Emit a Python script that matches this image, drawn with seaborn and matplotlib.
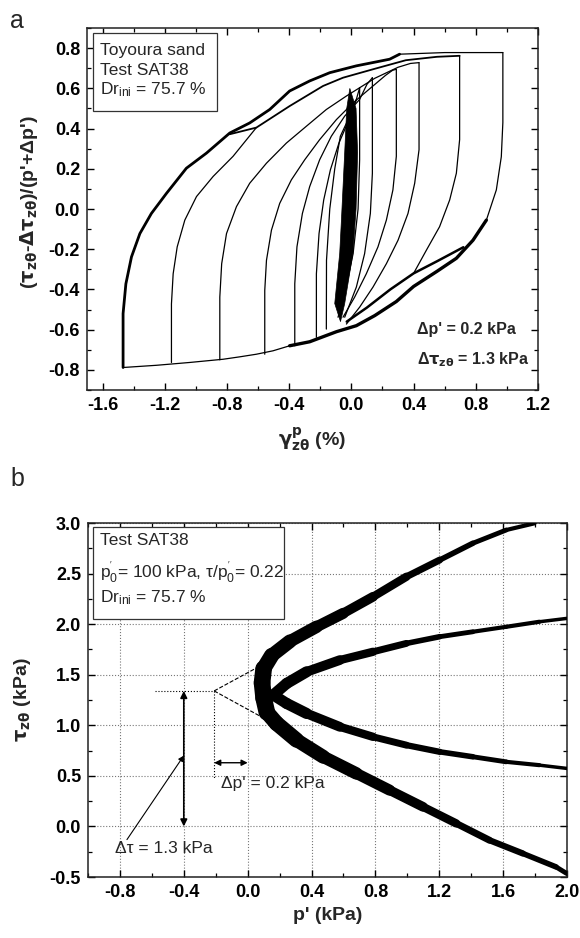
import numpy as np
import matplotlib
matplotlib.use('Agg')
import matplotlib.pyplot as plt
import seaborn as sns
from matplotlib.ticker import MultipleLocator
from matplotlib.collections import LineCollection
from matplotlib.patches import Rectangle

sns.set_style('ticks')
plt.rcParams['font.family'] = ['Liberation Sans', 'DejaVu Sans']
plt.rcParams['mathtext.fontset'] = 'custom'
plt.rcParams['mathtext.rm'] = 'Liberation Sans'
plt.rcParams['mathtext.it'] = 'Liberation Sans:italic'
plt.rcParams['mathtext.bf'] = 'DejaVu Sans:bold'
plt.rcParams['xtick.direction'] = 'in'
plt.rcParams['ytick.direction'] = 'in'

# ---------------- panel a: stress ratio vs plastic shear strain ----------------
# upper (noisy) envelope after the largest negative reversal
up_env_x = [-1.468, -1.468, -1.45, -1.414, -1.36, -1.286, -1.189, -1.061, -0.932, -0.782,
            -0.654, -0.525, -0.397, -0.268, -0.139, 0.032, 0.246, 0.31]
up_env_y = [-0.788, -0.52, -0.372, -0.238, -0.122, -0.022, 0.078, 0.203, 0.278, 0.378,
            0.428, 0.495, 0.587, 0.637, 0.678, 0.712, 0.745, 0.77]
top_x = [0.31, 0.6, 0.974]
top_y = [0.77, 0.778, 0.778]
# second upper line
ui_x = [-0.782, -0.611, -0.397, -0.182, -0.054, 0.139, 0.35, 0.55, 0.696]
ui_y = [0.372, 0.405, 0.512, 0.612, 0.653, 0.695, 0.74, 0.757, 0.762]
# lower (noisy) envelopes and bottom line
lo_env_x = [0.868, 0.782, 0.675, 0.55, 0.4, 0.289, 0.15, 0.032, -0.096, -0.182, -0.268, -0.397]
lo_env_y = [-0.055, -0.155, -0.245, -0.31, -0.385, -0.46, -0.53, -0.58, -0.61, -0.635, -0.66, -0.68]
lo_in_x = [0.72, 0.55, 0.4, 0.25, 0.1, -0.03]
lo_in_y = [-0.19, -0.26, -0.32, -0.4, -0.49, -0.56]
bot_x = [-0.397, -0.504, -0.611, -0.718, -0.825, -1.04, -1.253, -1.468]
bot_y = [-0.68, -0.705, -0.722, -0.735, -0.747, -0.763, -0.777, -0.788]

# unloading branches from positive reversals
r1_x = [0.974, 0.974, 0.964, 0.932, 0.868]
r1_y = [0.778, 0.43, 0.26, 0.095, -0.055]
r2_x = [0.696, 0.696, 0.675, 0.632, 0.567, 0.482, 0.4]
r2_y = [0.762, 0.345, 0.178, 0.045, -0.088, -0.205, -0.32]
r3_x = [0.435, 0.435, 0.407, 0.364, 0.3, 0.225, 0.139, 0.053, -0.032]
r3_y = [0.728, 0.295, 0.128, -0.022, -0.155, -0.272, -0.388, -0.488, -0.572]
r4_x = [0.289, 0.289, 0.267, 0.225, 0.171, 0.096, 0.021, -0.054]
r4_y = [0.695, 0.262, 0.095, -0.055, -0.188, -0.322, -0.438, -0.538]
r5_x = [0.135, 0.135, 0.122, 0.085, 0.032, -0.043]
r5_y = [0.653, 0.178, -0.022, -0.222, -0.388, -0.538]
r6_x = [0.053, 0.053, 0.043, 0.011, -0.043, -0.086]
r6_y = [0.603, 0.245, 0.0, -0.222, -0.422, -0.538]

# reloading branches from negative reversals
b_x = [-1.157, -1.157, -1.146, -1.12, -1.071, -0.996, -0.889, -0.761, -0.611]
b_y = [-0.763, -0.472, -0.322, -0.188, -0.055, 0.062, 0.162, 0.262, 0.405]
c_x = [-0.846, -0.846, -0.834, -0.803, -0.739, -0.654, -0.546, -0.418, -0.289, -0.161,
       -0.032, 0.15, 0.3, 0.38, 0.435]
c_y = [-0.75, -0.438, -0.272, -0.122, 0.012, 0.128, 0.228, 0.328, 0.412, 0.495,
       0.562, 0.65, 0.705, 0.724, 0.728]
d_x = [-0.557, -0.557, -0.546, -0.514, -0.461, -0.386, -0.3, -0.204, -0.096, 0.011,
       0.139, 0.22, 0.265, 0.289]
d_y = [-0.722, -0.405, -0.255, -0.105, 0.028, 0.145, 0.245, 0.345, 0.445, 0.528,
       0.612, 0.665, 0.69, 0.695]
e_x = [-0.364, -0.364, -0.35, -0.315, -0.268, -0.204, -0.129, -0.043, 0.053, 0.1, 0.135]
e_y = [-0.68, -0.372, -0.188, -0.022, 0.112, 0.245, 0.362, 0.462, 0.545, 0.62, 0.653]
f_x = [-0.225, -0.225, -0.208, -0.178, -0.135, -0.08, -0.015, 0.03, 0.053]
f_y = [-0.638, -0.322, -0.122, 0.045, 0.195, 0.328, 0.445, 0.54, 0.603]
g_x = [-0.161, -0.16, -0.139, -0.107, -0.071, -0.021, 0.032]
g_y = [-0.597, -0.255, 0.0, 0.2, 0.362, 0.445, 0.545]

# dense band of small cycles near zero strain
dense_x = [-0.01, 0.03, 0.04, 0.03, 0.01, -0.043, -0.07, -0.107, -0.075, -0.064, -0.043, -0.03]
dense_y = [0.6, 0.5, 0.28, 0.0, -0.22, -0.47, -0.56, -0.47, -0.22, -0.055, 0.28, 0.5]

# ---------------- panel b: stress path ----------------
outer_p = [1.796, 1.619, 1.41, 1.202, 0.994, 0.785, 0.598, 0.431, 0.264, 0.15, 0.1, 0.09,
           0.1, 0.12, 0.181, 0.306, 0.473, 0.681, 0.889, 1.098, 1.306, 1.514, 1.723, 1.931, 1.998]
outer_tau = [2.997, 2.931, 2.8, 2.634, 2.469, 2.271, 2.107, 1.974, 1.83, 1.69, 1.56, 1.42,
             1.27, 1.13, 1.019, 0.854, 0.689, 0.524, 0.359, 0.194, 0.03, -0.136, -0.267, -0.4, -0.465]
outer_w = [3, 3.5, 4, 5, 6, 7, 8, 9, 10, 11, 12, 12, 12, 11, 11, 10, 9, 8, 7, 6, 5, 4.5, 4, 3.5]

inner_p = [1.998, 1.827, 1.619, 1.41, 1.202, 0.994, 0.785, 0.577, 0.369, 0.244, 0.16,
           0.244, 0.369, 0.577, 0.785, 0.994, 1.202, 1.41, 1.619, 1.827, 1.998]
inner_tau = [2.057, 2.024, 1.974, 1.925, 1.876, 1.81, 1.727, 1.645, 1.529, 1.414, 1.3,
             1.216, 1.117, 0.985, 0.886, 0.804, 0.738, 0.689, 0.639, 0.606, 0.574]
inner_w = [2.5, 3, 3, 3.5, 4, 5, 6, 7, 8, 8, 8, 8, 7, 6, 5, 4.5, 4, 3.5, 3, 2.5]

# construction lines
apex = (-0.21, 1.34)
dash_up = (0.07, 1.58)
dash_lo = (0.09, 1.08)

fig = plt.figure(figsize=(5.8, 9.38), dpi=100)
ax1 = fig.add_axes([0.15, 0.5842, 0.7776, 0.3859])
ax2 = fig.add_axes([0.1517, 0.065, 0.826, 0.3774])


def branch(ax, xs, ys, lw=0.9):
    sns.lineplot(x=xs, y=ys, sort=False, estimator=None, color='black', lw=lw, ax=ax, legend=False)


for xs, ys in [(top_x, top_y), (r1_x, r1_y), (r2_x, r2_y), (r3_x, r3_y), (r4_x, r4_y),
               (r5_x, r5_y), (r6_x, r6_y), (b_x, b_y), (c_x, c_y), (d_x, d_y), (e_x, e_y),
               (f_x, f_y), (g_x, g_y), (bot_x, bot_y)]:
    branch(ax1, xs, ys, 0.9)
branch(ax1, ui_x, ui_y, 1.3)
branch(ax1, up_env_x, up_env_y, 2.0)
branch(ax1, lo_in_x, lo_in_y, 1.8)
branch(ax1, lo_env_x, lo_env_y, 2.4)
ax1.fill(dense_x, dense_y, color='black', lw=0.5)

ax1.set_xlim(-1.7, 1.2)
ax1.set_ylim(-0.9, 0.9)
ax1.xaxis.set_major_locator(MultipleLocator(0.4))
ax1.xaxis.set_minor_locator(MultipleLocator(0.2))
ax1.yaxis.set_major_locator(MultipleLocator(0.2))
ax1.yaxis.set_minor_locator(MultipleLocator(0.1))
ax1.set_xlabel(r"$\mathbf{\gamma^{p}_{z\theta}}$ (%)", fontsize=14, fontweight='bold')
ax1.set_ylabel(r"($\mathbf{\tau_{z\theta}}$-$\mathbf{\Delta\tau_{z\theta}}$)/(p'+Δp')",
               fontsize=14, fontweight='bold')
ax1.xaxis.set_label_coords(0.5, -0.1)
ax1.yaxis.set_label_coords(-0.104, 0.52)

ax1.add_patch(Rectangle((0.0133, 0.7707), 0.275, 0.2155, transform=ax1.transAxes,
                        facecolor='white', edgecolor='#333333', lw=0.9, zorder=5))
for yy, s in [(0.939, 'Toyoura sand'), (0.882, 'Test SAT38'), (0.829, r'Dr$_{\rm ini}$ = 75.7 %')]:
    ax1.text(0.0288, yy, s, transform=ax1.transAxes, fontsize=12.5, va='center', zorder=6)
ax1.text(0.731, 0.166, "Δp' = 0.2 kPa", transform=ax1.transAxes, fontsize=11.5,
         fontweight='bold', va='center')
ax1.text(0.731, 0.083, r"Δ$\mathbf{\tau_{z\theta}}$ = 1.3 kPa", transform=ax1.transAxes,
         fontsize=11.5, fontweight='bold', va='center')

# panel b
ax2.grid(True, which='major', ls=':', color='#777777', lw=0.8)
ax2.set_axisbelow(True)
for ps, ts, ws in [(outer_p, outer_tau, outer_w), (inner_p, inner_tau, inner_w)]:
    pts = np.column_stack([ps, ts])
    segs = np.stack([pts[:-1], pts[1:]], axis=1)
    ax2.add_collection(LineCollection(segs, linewidths=ws, colors='black',
                                      capstyle='round', joinstyle='round', zorder=3))
sns.lineplot(x=[apex[0], dash_up[0]], y=[apex[1], dash_up[1]], color='black', lw=0.8,
             ls='--', ax=ax2, sort=False, estimator=None)
sns.lineplot(x=[apex[0], dash_lo[0]], y=[apex[1], dash_lo[1]], color='black', lw=0.8,
             ls='--', ax=ax2, sort=False, estimator=None)
ax2.plot([-0.58, apex[0]], [apex[1], apex[1]], color='black', lw=0.8, ls=':')
ax2.plot([apex[0], apex[0]], [apex[1], 0.47], color='black', lw=0.8, ls=':')
ax2.annotate('', xy=(-0.4, apex[1]), xytext=(-0.4, 0.0),
             arrowprops=dict(arrowstyle='<|-|>', lw=1.2, color='black', mutation_scale=10,
                             shrinkA=0, shrinkB=0))
ax2.annotate('', xy=(apex[0], 0.63), xytext=(0.0, 0.63),
             arrowprops=dict(arrowstyle='<|-|>', lw=1.0, color='black', mutation_scale=9,
                             shrinkA=0, shrinkB=0))
ax2.annotate('', xy=(-0.4, 0.7), xytext=(-0.756, -0.13),
             arrowprops=dict(arrowstyle='-|>', lw=0.8, color='black', mutation_scale=8,
                             shrinkA=0, shrinkB=0))
ax2.text(-0.17, 0.42, "Δp' = 0.2 kPa", fontsize=12.5, va='center')
ax2.text(-0.83, -0.22, "Δτ = 1.3 kPa", fontsize=12.5, va='center')

ax2.add_patch(Rectangle((0.0098, 0.728), 0.40, 0.2607, transform=ax2.transAxes,
                        facecolor='white', edgecolor='#333333', lw=0.9, zorder=5))
for yy, s in [(0.952, 'Test SAT38'),
              (0.862, r"p$^{'}_{0}$= 100 kPa, τ/p$^{'}_{0}$= 0.22"),
              (0.788, r'Dr$_{\rm ini}$ = 75.7 %')]:
    ax2.text(0.025, yy, s, transform=ax2.transAxes, fontsize=12.5, va='center', zorder=6)

ax2.set_xlim(-1.0, 2.0)
ax2.set_ylim(-0.5, 3.0)
ax2.xaxis.set_major_locator(MultipleLocator(0.4))
ax2.xaxis.set_minor_locator(MultipleLocator(0.2))
ax2.yaxis.set_major_locator(MultipleLocator(0.5))
ax2.yaxis.set_minor_locator(MultipleLocator(0.25))
ax2.set_xlabel("p' (kPa)", fontsize=14, fontweight='bold')
ax2.set_ylabel(r"$\mathbf{\tau_{z\theta}}$ (kPa)", fontsize=14, fontweight='bold')
ax2.xaxis.set_label_coords(0.5, -0.085)
ax2.yaxis.set_label_coords(-0.115, 0.5)

for ax in (ax1, ax2):
    ax.tick_params(which='both', direction='in', top=True, right=True, colors='black',
                   labelsize=13, pad=5)
    ax.tick_params(which='major', length=5, width=1.0)
    ax.tick_params(which='minor', length=3, width=0.9)
    for sp in ax.spines.values():
        sp.set_linewidth(1.1)
        sp.set_color('#222222')

ax1.set_xticks([-1.6, -1.2, -0.8, -0.4, 0.0, 0.4, 0.8, 1.2])
ax1.set_xticklabels(['-1.6', '-1.2', '-0.8', '-0.4', '0.0', '0.4', '0.8', '1.2'], fontweight='bold')
ax1.set_yticks([-0.8, -0.6, -0.4, -0.2, 0.0, 0.2, 0.4, 0.6, 0.8])
ax1.set_yticklabels(['-0.8', '-0.6', '-0.4', '-0.2', '0.0', '0.2', '0.4', '0.6', '0.8'], fontweight='bold')
ax2.set_xticks([-0.8, -0.4, 0.0, 0.4, 0.8, 1.2, 1.6, 2.0])
ax2.set_xticklabels(['-0.8', '-0.4', '0.0', '0.4', '0.8', '1.2', '1.6', '2.0'], fontweight='bold')
ax2.set_yticks([-0.5, 0.0, 0.5, 1.0, 1.5, 2.0, 2.5, 3.0])
ax2.set_yticklabels(['-0.5', '0.0', '0.5', '1.0', '1.5', '2.0', '2.5', '3.0'], fontweight='bold')

fig.text(0.018, 0.99, 'a', fontsize=18, va='top')
fig.text(0.018, 0.502, 'b', fontsize=18, va='top')

fig.savefig('out.png', dpi=100)
